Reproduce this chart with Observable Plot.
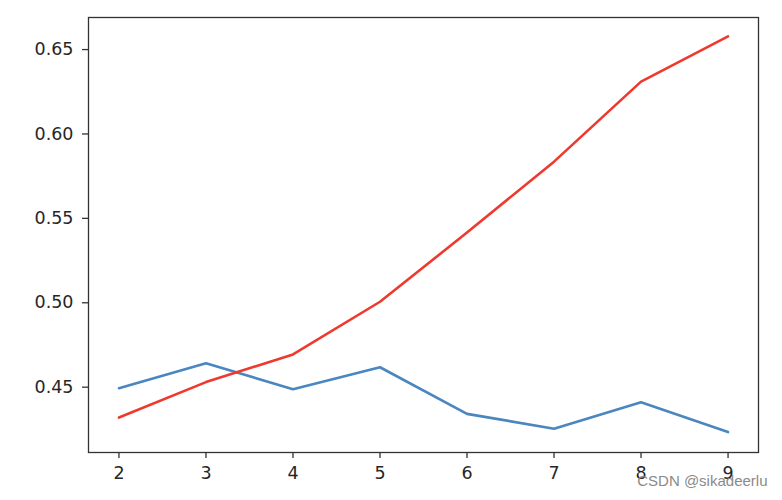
<!DOCTYPE html>
<html>
<head>
<meta charset="utf-8">
<script src="https://cdn.jsdelivr.net/npm/d3@7"></script>
<script src="https://cdn.jsdelivr.net/npm/@observablehq/plot@0.6"></script>
<style>
  html, body { margin: 0; padding: 0; background: #fff; }
  #chart { position: relative; width: 782px; height: 500px; }
</style>
</head>
<body>
<div id="chart"></div>
<script>
const xs = [2, 3, 4, 5, 6, 7, 8, 9];
const redValues = [0.432, 0.453, 0.4694, 0.5006, 0.5416, 0.5836, 0.631, 0.6578];
const blueValues = [0.4494, 0.4642, 0.4488, 0.4618, 0.4342, 0.4254, 0.4411, 0.4234];
const yTicks = [0.45, 0.50, 0.55, 0.60, 0.65];
const xTicks = [2, 3, 4, 5, 6, 7, 8, 9];
const watermark = "CSDN @sikadeerlu";

const blue = xs.map((x, i) => ({x, y: blueValues[i]}));
const red = xs.map((x, i) => ({x, y: redValues[i]}));

const chart = Plot.plot({
  width: 782,
  height: 500,
  marginLeft: 88,
  marginRight: 24,
  marginTop: 17,
  marginBottom: 48,
  style: {fontFamily: "DejaVu Sans, sans-serif", fontSize: "17.5px", color: "#262626", background: "#fff"},
  x: {domain: [1.65, 9.35], ticks: xTicks, tickFormat: d3.format("d"), tickSize: 6, tickPadding: 8, label: null},
  y: {domain: [0.4113, 0.669], ticks: yTicks, tickFormat: d3.format(".2f"), tickSize: 6, tickPadding: 9, label: null},
  marks: [
    Plot.axisX({ticks: xTicks, tickFormat: d3.format("d"), tickSize: 6, tickPadding: 8, stroke: "#333", strokeWidth: 1.3, strokeOpacity: 1, fontSize: 17.5, label: null}),
    Plot.axisY({ticks: yTicks, tickFormat: d3.format(".2f"), tickSize: 6, tickPadding: 9, stroke: "#333", strokeWidth: 1.3, strokeOpacity: 1, fontSize: 17.5, label: null}),
    Plot.line(blue, {x: "x", y: "y", stroke: "#4a86bf", strokeWidth: 2.6}),
    Plot.line(red, {x: "x", y: "y", stroke: "#ee3a2e", strokeWidth: 2.6}),
    Plot.frame({stroke: "#333", strokeWidth: 1.3}),
    Plot.text([watermark], {text: d => d, frameAnchor: "bottom-right", dx: 9, dy: 33, textAnchor: "end", fill: "#8a8a8a", fontSize: 15, fontFamily: "Liberation Sans, Arial, sans-serif"})
  ]
});
document.getElementById("chart").appendChild(chart);
</script>
</body>
</html>
